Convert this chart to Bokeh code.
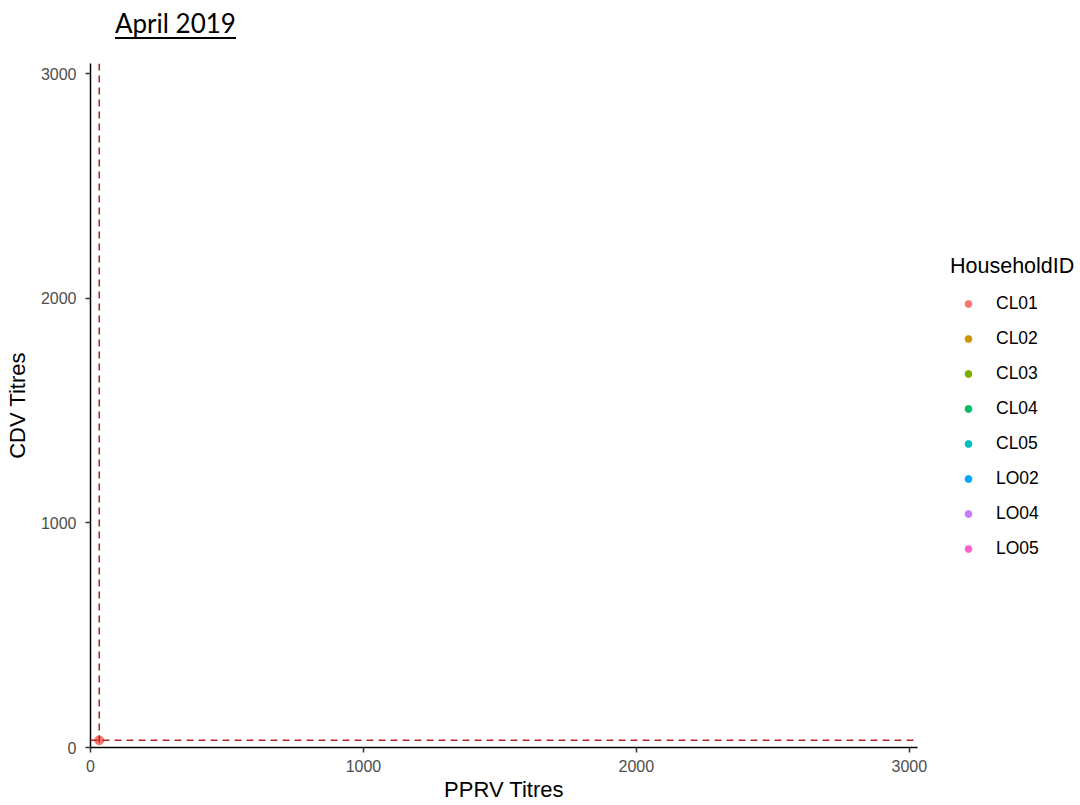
from bokeh.plotting import figure
from bokeh.models import Range1d, FixedTicker, Span, Legend, LegendItem, Div, ColumnDataSource
from bokeh.layouts import column
from bokeh.embed import file_html
from bokeh.resources import INLINE

nan = float("nan")

# ---- data ----
chart_title = "April 2019"
x_label = "PPRV Titres"
y_label = "CDV Titres"
legend_title = "HouseholdID"
households = ["CL01", "CL02", "CL03", "CL04", "CL05", "LO02", "LO04", "LO05"]
household_colors = ["#F8766D", "#CD9600", "#7CAE00", "#00BE67", "#00BFC4", "#00A9FF", "#C77CFF", "#FF61CC"]
# titres per household (NaN = no visible measurement in this panel)
pprv_titres = [32, nan, nan, nan, nan, nan, nan, nan]
cdv_titres = [32, nan, nan, nan, nan, nan, nan, nan]
pprv_threshold = 32
cdv_threshold = 32
tick_values = [0, 1000, 2000, 3000]
x_limits = (0, 3030)
y_limits = (0, 3045)

# ---- title ----
div = Div(
    text=('<div style="margin:8px 0 0 115px;font-family:Lato;font-size:26px;line-height:30px;'
          'color:#000;text-decoration:underline;text-decoration-thickness:2px;'
          'text-underline-offset:4px;white-space:nowrap">' + chart_title + '</div>'),
    width=1080, height=45, margin=0)

# ---- figure ----
p = figure(frame_width=827, frame_height=684,
           x_range=Range1d(*x_limits), y_range=Range1d(*y_limits),
           output_backend="svg", toolbar_location=None,
           min_border_left=90, min_border_right=163, min_border_top=18, min_border_bottom=58,
           background_fill_color="white", border_fill_color="white", outline_line_color=None)
p.xgrid.visible = False
p.ygrid.visible = False

p.xaxis.axis_label = x_label
p.yaxis.axis_label = y_label
for ax in (p.xaxis[0], p.yaxis[0]):
    ax.ticker = FixedTicker(ticks=tick_values)
    ax.axis_line_color = "black"
    ax.axis_line_width = 1.5
    ax.major_tick_line_color = "#333333"
    ax.major_tick_line_width = 1.5
    ax.major_tick_out = 5
    ax.major_tick_in = 0
    ax.minor_tick_line_color = None
    ax.major_label_text_font = "Liberation Sans"
    ax.major_label_text_font_size = "16px"
    ax.major_label_text_color = "#4D4D4D"
    ax.axis_label_text_font = "Liberation Sans"
    ax.axis_label_text_font_size = "22px"
    ax.axis_label_text_font_style = "normal"
    ax.axis_label_text_color = "black"
p.xaxis[0].major_label_standoff = 7
p.xaxis[0].axis_label_standoff = 2
p.yaxis[0].major_label_standoff = 9
p.yaxis[0].axis_label_standoff = 8

items = []
for hh, col, xv, yv in zip(households, household_colors, pprv_titres, cdv_titres):
    src = ColumnDataSource(data=dict(x=[xv], y=[yv]))
    r = p.scatter("x", "y", source=src, size=9, color=col, line_color=col)
    items.append(LegendItem(label=hh, renderers=[r]))

p.add_layout(Span(location=pprv_threshold, dimension="height", line_color="#B22222",
                  line_dash="7 5", line_width=1.5))
p.add_layout(Span(location=cdv_threshold, dimension="width", line_color="#B22222",
                  line_dash="7 5", line_width=1.5))

legend = Legend(items=items, location=(33, 183), title=legend_title,
                margin=0, padding=0, spacing=3,
                glyph_width=36, glyph_height=17, label_height=32, label_standoff=10,
                label_text_font="Liberation Sans", label_text_font_size="17.5px",
                label_text_color="black",
                title_text_font="Liberation Sans", title_text_font_size="21.5px",
                title_text_font_style="normal", title_text_color="black", title_standoff=8,
                background_fill_alpha=0, border_line_color=None)
p.add_layout(legend, "right")

layout = column(div, p, spacing=0)
open("out.html", "w").write(file_html(layout, INLINE))
